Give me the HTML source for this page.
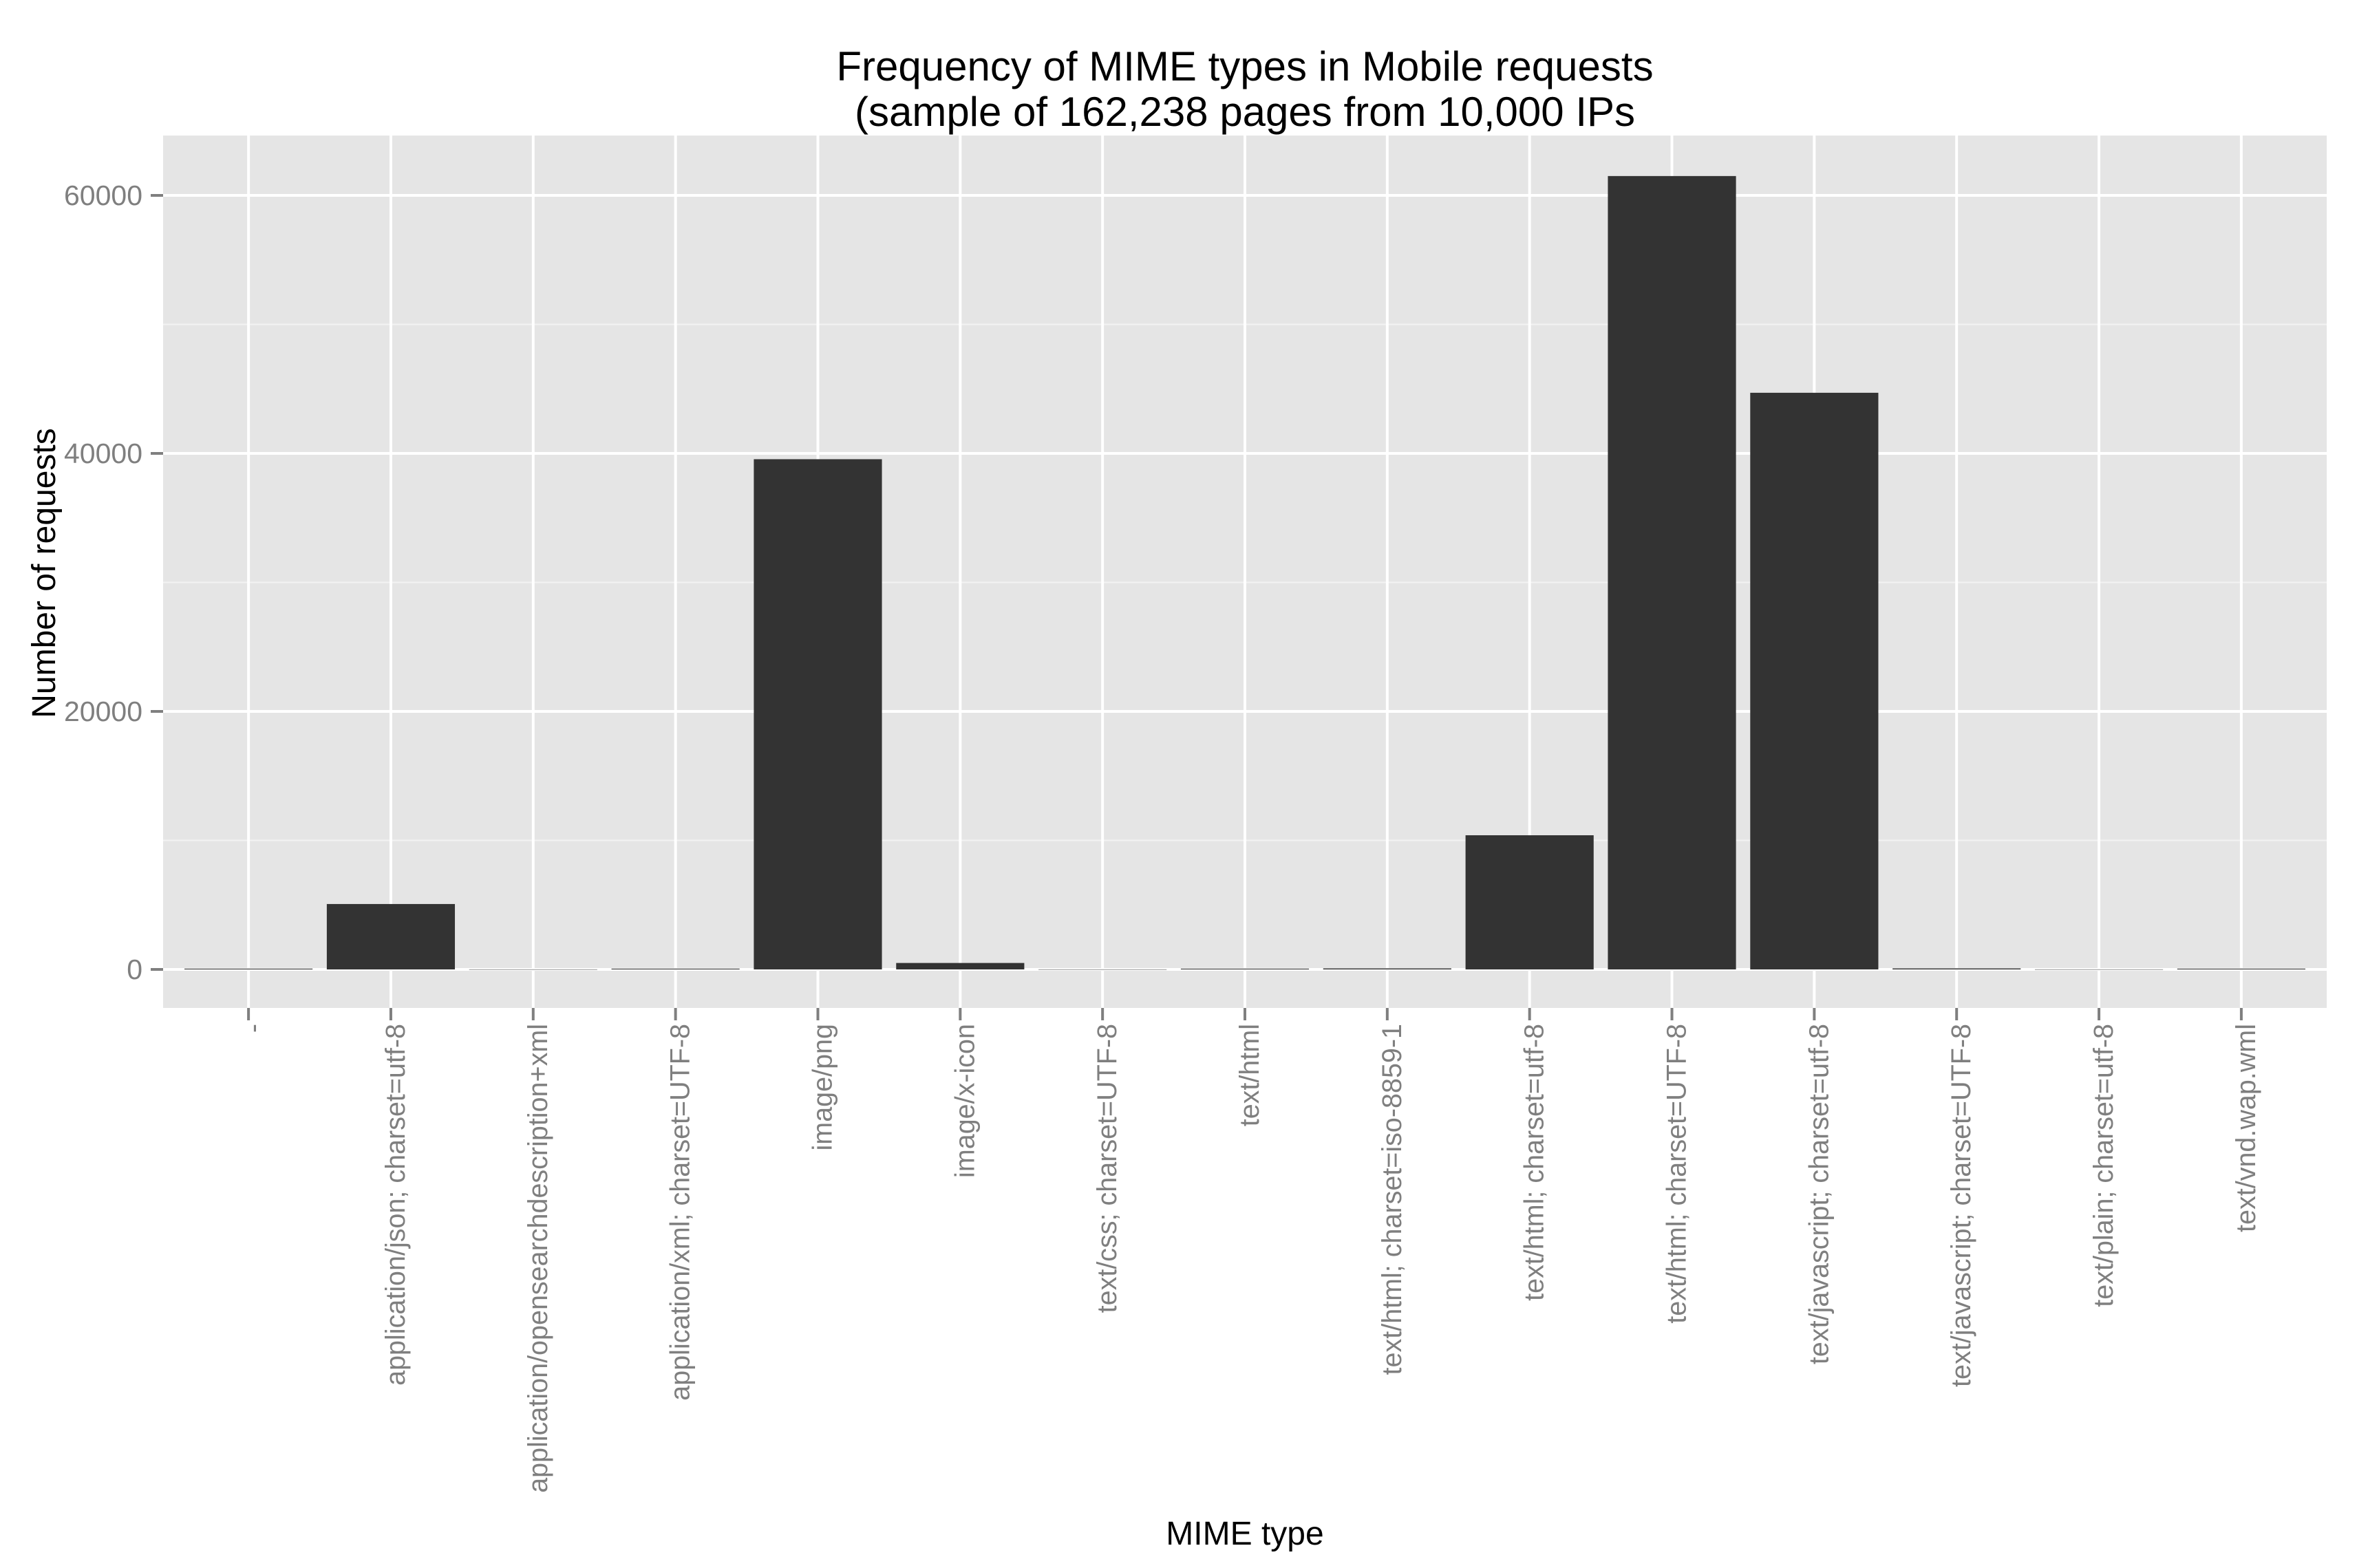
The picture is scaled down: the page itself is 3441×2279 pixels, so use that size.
<!DOCTYPE html>
<html><head><meta charset="utf-8"><style>
html,body{margin:0;padding:0;background:#fff;}
svg{display:block;font-family:"Liberation Sans",Arial,sans-serif;}
</style></head><body>
<svg id="chart" width="3441" height="2279" viewBox="0 0 3441 2279" xmlns="http://www.w3.org/2000/svg">
<rect width="3441" height="2279" fill="#fff"/>
<text x="1809" y="117" font-size="60" text-anchor="middle" fill="#000">Frequency of MIME types in Mobile requests</text>
<text x="1809" y="183" font-size="60" text-anchor="middle" fill="#000">(sample of 162,238 pages from 10,000 IPs</text>
<rect x="237" y="197" width="3144" height="1268" fill="#e5e5e5"/>
<g id="grid"></g>
<g id="bars"></g>
<g id="yaxis"></g>
<g id="xaxis"></g>
<text transform="translate(80,833) rotate(-90)" font-size="48" text-anchor="middle" fill="#000">Number of requests</text>
<text x="1809" y="2245" font-size="48" text-anchor="middle" fill="#000">MIME type</text>
</svg>
<script>
const categories = ["-","application/json; charset=utf-8","application/opensearchdescription+xml","application/xml; charset=UTF-8","image/png","image/x-icon","text/css; charset=UTF-8","text/html","text/html; charset=iso-8859-1","text/html; charset=utf-8","text/html; charset=UTF-8","text/javascript; charset=utf-8","text/javascript; charset=UTF-8","text/plain; charset=utf-8","text/vnd.wap.wml"];
const counts = [60, 5070, 5, 60, 39550, 500, 5, 60, 80, 10400, 61500, 44700, 80, 5, 60];
const yTicks = [0, 20000, 40000, 60000];
const yMinor = [10000, 30000, 50000];

const NS = "http://www.w3.org/2000/svg";
const panelL = 237, panelR = 3381, panelT = 197, panelB = 1465;
const y0px = 1409, pxPer = 1125 / 60000;
const step = (panelR - panelL) / (categories.length + 0.2);
function xScale(i){ return panelL + step * (i + 0.6); }
function yScale(v){ return y0px - v * pxPer; }
function mk(tag, attrs, parent){ const e = document.createElementNS(NS, tag); for (const k in attrs) e.setAttribute(k, attrs[k]); parent.appendChild(e); return e; }

const grid = document.getElementById('grid');
yMinor.forEach(v => {
  const l = mk('line', {x1: panelL, x2: panelR, y1: yScale(v), y2: yScale(v), stroke: '#f2f2f2', 'stroke-width': 2}, grid);
  
  
});
yTicks.forEach(v => {
  const l = mk('line', {x1: panelL, x2: panelR, y1: yScale(v), y2: yScale(v), stroke: '#fff', 'stroke-width': 4}, grid);
  
  
});
categories.forEach((c, i) => {
  const l = mk('line', {x1: xScale(i), x2: xScale(i), y1: panelT, y2: panelB, stroke: '#fff', 'stroke-width': 4}, grid);
  
  
});

const bars = document.getElementById('bars');
const bw = step * 0.9;
counts.forEach((v, i) => {
  const h = Math.max(v * pxPer, 0.5);
  const r = mk('rect', {x: xScale(i) - bw / 2, y: yScale(v), width: bw, height: h, fill: '#333333'}, bars);
  
  
});

const ya = document.getElementById('yaxis');
yTicks.forEach(v => {
  const t = mk('line', {x1: 219, x2: 237, y1: yScale(v), y2: yScale(v), stroke: '#7f7f7f', 'stroke-width': 4}, ya);
  
  
  const tx = mk('text', {x: 207, y: yScale(v) + 14, 'font-size': 41, 'text-anchor': 'end', fill: '#7f7f7f'}, ya);
  tx.textContent = String(v);
  
  
});

const xa = document.getElementById('xaxis');
categories.forEach((c, i) => {
  const x = xScale(i);
  const t = mk('line', {x1: x, x2: x, y1: panelB, y2: panelB + 18, stroke: '#7f7f7f', 'stroke-width': 4}, xa);
  
  
  const tx = mk('text', {transform: 'translate(' + (x + 20) + ',1488) rotate(-90)', 'font-size': 39.5, 'text-anchor': 'end', fill: '#7f7f7f'}, xa);
  tx.textContent = c;
  
  
});
</script>
</body></html>
